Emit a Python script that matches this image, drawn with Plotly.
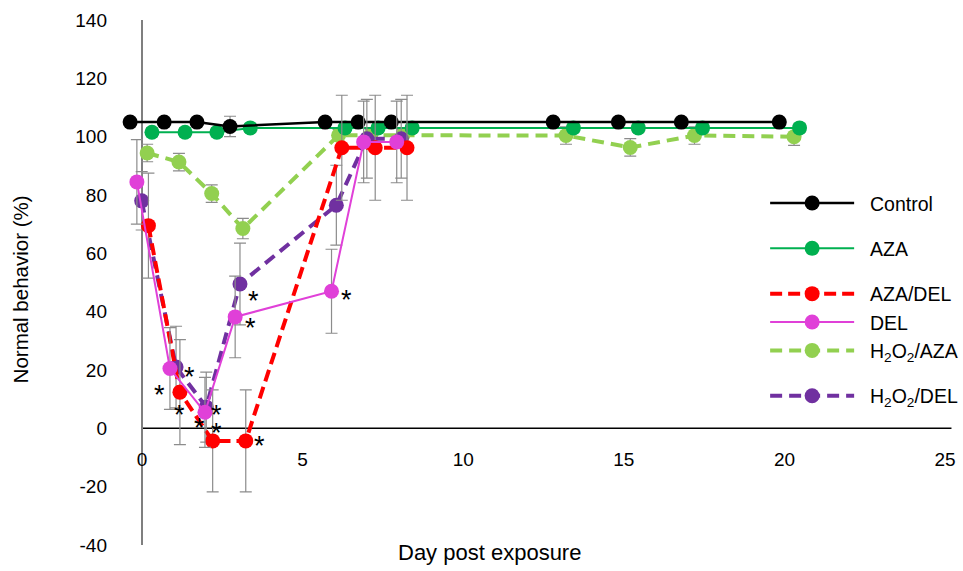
import plotly.graph_objects as go

# ---------------- data ----------------
x_ticks = [0, 5, 10, 15, 20, 25]
y_ticks = [-40, -20, 0, 20, 40, 60, 80, 100, 120, 140]
y_tick_labels = ["-40", "-20", "0", "20", "40", "60", "80", "100", "120", "140"]

control_x = [-0.37, 0.69, 1.71, 2.74, 5.70, 6.73, 7.76, 12.80, 14.83, 16.79, 19.84]
control_y = [105, 105, 105, 103.5, 105, 105, 105, 105, 105, 105, 105]
control_e = [0.5, 0.5, 0.5, 3.5, 0.5, 0.5, 0.5, 0.5, 0.5, 0.5, 0.5]

aza_x = [0.31, 1.34, 2.33, 3.37, 6.32, 7.35, 8.41, 13.43, 15.45, 17.45, 20.47]
aza_y = [101.5, 101.5, 101.5, 103, 103, 103, 103, 103, 103, 103, 103]
aza_e = [1.5, 1.5, 1.5, 1.5, 1.5, 1.5, 1.5, 1.5, 1.5, 1.5, 1.5]

azadel_x = [0.2, 1.18, 2.2, 3.23, 6.22, 7.26, 8.25]
azadel_y = [69.5, 12.4, -4.3, -4.3, 96.2, 96.2, 96.2]
azadel_e = [18, 18, 17.5, 17.5, 18, 18, 18]

del_x = [-0.16, 0.87, 1.96, 2.9, 5.9, 6.9, 7.93]
del_y = [84.5, 20.5, 5.5, 38.2, 47, 98.2, 98.2]
del_e = [14.5, 14, 12, 14, 14.4, 14, 14]

h2aza_x = [0.16, 1.15, 2.17, 3.14, 6.12, 7.12, 8.12, 13.2, 15.2, 17.2, 20.3]
h2aza_y = [94.4, 91.3, 80.5, 68.5, 100.5, 100.5, 100.5, 100.4, 96.3, 100.4, 100]
h2aza_e = [3, 3, 3, 3.5, 2, 2, 2, 3, 3, 3, 3]

h2del_x = [-0.01, 1.06, 2.0, 3.05, 6.05, 7.0, 8.07]
h2del_y = [78, 21, 7.3, 49.5, 76.5, 99.3, 99.3]
h2del_e = [10, 14, 12, 14, 13.7, 13.5, 13.5]

# significance stars: (series, point index, dx px, dy px down)
stars = [
    ("DEL", 1, -10, 18),
    ("H2DEL", 1, 13, 2),
    ("AZADEL", 1, 0, 15),
    ("H2DEL", 2, 10, 0),
    ("DEL", 2, 12, 13),
    ("AZADEL", 2, -13, -21),
    ("AZADEL", 3, 14, -3),
    ("H2DEL", 3, 14, 9),
    ("DEL", 3, 15, 3),
    ("DEL", 4, 15, 1),
]

FONT = "Liberation Sans, Arial, sans-serif"
ERR_COLOR = "#8c8c8c"
PAD = "\u00a0\u00a0"

series = {
    "Control": dict(x=control_x, y=control_y, e=control_e, color="#000000", dash="solid", width=2.5, rank=1,
                    name="Control", group="g1"),
    "AZA": dict(x=aza_x, y=aza_y, e=aza_e, color="#00B050", dash="solid", width=2, rank=2,
                name="AZA", group="g2"),
    "AZADEL": dict(x=azadel_x, y=azadel_y, e=azadel_e, color="#FF0000", dash="12px,6px", width=4, rank=3,
                   name="AZA/DEL", group="g3"),
    "DEL": dict(x=del_x, y=del_y, e=del_e, color="#E040D8", dash="solid", width=2, rank=4,
                name="DEL", group="g3"),
    "H2AZA": dict(x=h2aza_x, y=h2aza_y, e=h2aza_e, color="#92D050", dash="12px,7px", width=4, rank=5,
                  name="H<sub>2</sub>O<sub>2</sub>/AZA", group="g3"),
    "H2DEL": dict(x=h2del_x, y=h2del_y, e=h2del_e, color="#7030A0", dash="12px,7px", width=4, rank=6,
                  name="H<sub>2</sub>O<sub>2</sub>/DEL", group="g4"),
}
draw_order = ["H2AZA", "AZA", "Control", "H2DEL", "AZADEL", "DEL"]

fig = go.Figure()
for key in draw_order:
    s = series[key]
    fig.add_trace(go.Scatter(
        x=s["x"], y=s["y"], mode="lines+markers",
        name=PAD + s["name"],
        legendgroup=s["group"], legendrank=s["rank"],
        line=dict(color=s["color"], width=s["width"], dash=s["dash"]),
        marker=dict(color=s["color"], size=15, line=dict(width=0)),
        error_y=dict(type="data", array=s["e"], visible=True, color=ERR_COLOR, thickness=1.2, width=6),
        cliponaxis=False,
    ))

annotations = []
for key, i, dx, dy in stars:
    s = series[key]
    annotations.append(dict(
        x=s["x"][i], y=s["y"][i], xref="x", yref="y", text="*", showarrow=False,
        xshift=dx, yshift=-(dy + 8), font=dict(family=FONT, size=27, color="black"),
    ))

annotations.append(dict(text="Normal behavior (%)", xref="paper", yref="paper", x=-0.11, y=0.4876,
                        xanchor="center", yanchor="middle",
                        textangle=-90, showarrow=False, font=dict(family=FONT, size=20.5, color="black")))
annotations.append(dict(text="Day post exposure", xref="paper", yref="paper", x=0.4477, y=-0.0152,
                        xanchor="center", yanchor="middle",
                        showarrow=False, font=dict(family=FONT, size=22, color="black")))

fig.update_layout(
    width=963, height=571,
    margin=dict(l=113, r=8, t=20, b=26, autoexpand=False),
    paper_bgcolor="white", plot_bgcolor="white",
    font=dict(family=FONT, size=19, color="black"),
    showlegend=True,
    legend=dict(x=0.7745, y=0.688, xanchor="left", yanchor="top", bgcolor="rgba(0,0,0,0)",
                itemwidth=84, tracegroupgap=17, font=dict(family=FONT, size=19.5, color="black")),
    annotations=annotations,
    shapes=[dict(type="line", xref="x", yref="y", x0=0, x1=25.2, y0=0, y1=0,
                 line=dict(color="black", width=1.5), layer="below")],
    xaxis=dict(range=[-0.903, 25.31], tickvals=x_ticks, showgrid=False, showline=False, ticks="",
               zeroline=True, zerolinecolor="#7f7f7f", zerolinewidth=1.5, automargin=False,
               anchor="free", position=40 / 180, ticklabelstandoff=18,
               tickfont=dict(family=FONT, size=19, color="black")),
    yaxis=dict(range=[-40, 140], tickvals=y_ticks, ticktext=y_tick_labels, showgrid=False, showline=False,
               ticks="", zeroline=False, anchor="free", position=0.903 / 26.213, ticklabelstandoff=35,
               automargin=False, tickfont=dict(family=FONT, size=19, color="black")),
)

fig.write_html("out.html")
